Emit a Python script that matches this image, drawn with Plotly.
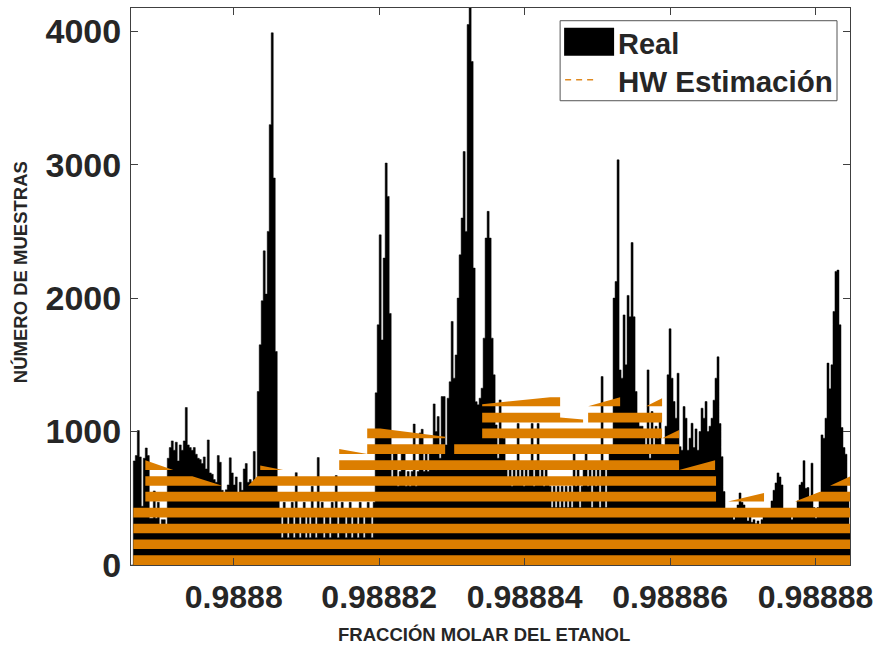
import plotly.graph_objects as go

# Histogram of the measured samples (one count per bin)
BIN_START = 0.98878591
BIN_WIDTH = 2.749e-7
REAL_COUNTS = [
    0, 780, 820, 1007, 810, 440, 800, 877, 820, 350,
    350, 555, 350, 470, 300, 340, 340, 300, 800, 880,
    930, 860, 920, 780, 900, 860, 930, 1180, 900, 880,
    860, 880, 830, 800, 790, 760, 810, 720, 937, 690,
    680, 640, 620, 820, 770, 560, 530, 563, 600, 803,
    690, 600, 660, 540, 620, 560, 720, 760, 620, 640,
    620, 850, 640, 1300, 1650, 1980, 2354, 2030, 2500, 3300,
    3988, 2900, 1600, 480, 370, 205, 470, 370, 205, 370,
    470, 205, 692, 370, 205, 370, 470, 205, 370, 205,
    590, 370, 205, 805, 370, 470, 205, 370, 370, 205,
    470, 370, 670, 205, 370, 470, 370, 205, 370, 470,
    205, 370, 370, 205, 470, 370, 205, 370, 470, 370,
    205, 470, 1290, 1800, 2474, 1687, 2300, 3012, 2762, 1885,
    600, 840, 840, 590, 700, 840, 840, 590, 700, 590,
    700, 1056, 590, 700, 990, 1017, 700, 840, 700, 840,
    860, 1207, 1000, 1112, 800, 1262, 1262, 900, 1250, 1373,
    1825, 1400, 1574, 2000, 2324, 2600, 3098, 2500, 4050, 4174,
    3773, 2225, 1224, 1200, 1250, 1325, 1700, 2450, 2650, 2450,
    1700, 1425, 1050, 800, 1237, 1000, 950, 720, 600, 720,
    590, 720, 600, 1060, 600, 720, 590, 720, 600, 720,
    1060, 590, 720, 1060, 600, 720, 590, 720, 600, 590,
    430, 590, 430, 590, 430, 590, 430, 590, 430, 590,
    430, 850, 590, 720, 430, 590, 720, 850, 590, 720,
    430, 720, 590, 720, 430, 1412, 720, 430, 720, 840,
    840, 2000, 2124, 3036, 1462, 1400, 1874, 1500, 2020, 1860,
    2416, 1860, 1300, 1100, 1040, 1040, 1000, 900, 1462, 800,
    1150, 850, 1040, 950, 1130, 900, 850, 1040, 1425, 1770,
    1400, 1225, 1100, 1437, 887, 860, 1187, 1100, 860, 950,
    1062, 880, 1020, 860, 1000, 1175, 1100, 1225, 1000, 1040,
    1100, 1235, 1400, 1560, 1060, 812, 550, 420, 370, 400,
    360, 340, 370, 450, 540, 470, 450, 360, 330, 360,
    320, 340, 310, 330, 300, 340, 360, 400, 380, 400,
    480, 560, 615, 690, 660, 600, 400, 380, 400, 380,
    340, 380, 400, 480, 600, 620, 782, 575, 580, 500,
    763, 430, 350, 430, 520, 975, 950, 1100, 1513, 1320,
    1500, 1900, 2200, 2210, 1800, 1030, 880, 830, 500, 300,
]

# HW estimate: dashed level segments (offset from 0.9888 in 1e-6, counts)
BASE = 0.9888
SEG_START = [-13.81, -13.81, -13.81, -13.81,
             -12.16, 67.97, 77.18, 80.62,
             -12.16, -5.70, 1.99, 3.23, 81.99,
             -12.16, 3.64, 14.50, 61.24,
             14.50, 18.35, 30.31,
             18.35, 20.14, 34.16, 58.90,
             34.16, 44.88, 48.73,
             34.16, 43.51, 48.73, 56.70]
SEG_END = [84.88, 84.88, 84.88, 84.88,
           66.32, 72.92, 80.62, 84.88,
           -5.70, -1.58, 3.23, 66.32, 84.88,
           -8.32, 6.80, 61.24, 66.19,
           18.35, 29.07, 61.24,
           20.14, 29.07, 58.90, 61.24,
           44.88, 48.04, 58.90,
           43.51, 44.88, 53.13, 58.90]
SEG_LOW = [0, 119, 237, 356,
           475, 475, 475, 475,
           593, 593, 593, 593, 593,
           712, 712, 712, 712,
           831, 831, 831,
           949, 949, 949, 949,
           1067, 1067, 1067,
           1190, 1190, 1190, 1190]
SEG_TOP_LEFT = [73, 192, 310, 429,
                548, 475, 475, 548,
                666, 666, 593, 666, 593,
                785, 745, 785, 712,
                870, 904, 904,
                1022, 1022, 1022, 949,
                1140, 1105, 1140,
                1205, 1258, 1190, 1190]
SEG_TOP_RIGHT = [73, 192, 310, 429,
                 548, 540, 548, 548,
                 666, 593, 666, 666, 666,
                 712, 712, 785, 785,
                 831, 904, 904,
                 1022, 962, 1022, 1012,
                 1140, 1090, 1140,
                 1258, 1258, 1258, 1250]

X_TICKS = [0.9888, 0.98882, 0.98884, 0.98886, 0.98888]
X_LABELS = ["0.9888", "0.98882", "0.98884", "0.98886", "0.98888"]
Y_TICKS = [0, 1000, 2000, 3000, 4000]
X_RANGE = [0.98878587, 0.98888474]
Y_RANGE = [0, 4174]

TEXT = "#262626"
ORANGE = "#DC7E00"

edges = [BIN_START + i * BIN_WIDTH for i in range(len(REAL_COUNTS) + 1)]
hx = edges
hy = REAL_COUNTS + [REAL_COUNTS[-1]]

ox, oy = [], []
for s, e, lo, tl, tr in zip(SEG_START, SEG_END, SEG_LOW, SEG_TOP_LEFT, SEG_TOP_RIGHT):
    a, b = BASE + s * 1e-6, BASE + e * 1e-6
    ox += [a, b, b, a, a, None]
    oy += [lo, lo, tr, tl, lo, None]

fig = go.Figure()
fig.add_trace(go.Scatter(x=hx, y=hy, mode="lines", name="Real",
                         line=dict(color="black", width=0.5, shape="hv"),
                         fill="tozeroy", fillcolor="black", hoverinfo="skip"))
fig.add_trace(go.Scatter(x=ox, y=oy, mode="lines", name="HW Estimación",
                         line=dict(width=0, color=ORANGE),
                         fill="toself", fillcolor=ORANGE, hoverinfo="skip"))

W, H = 877, 645
L, R, T, B = 130.7, 850, 8.3, 565.1
px = lambda v: (v - L) / (R - L)
py = lambda v: (B - v) / (B - T)

shapes = [
    dict(type="rect", xref="paper", yref="paper", x0=px(560), x1=px(837), y0=py(101), y1=py(21),
         fillcolor="white", line=dict(color="#555555", width=1)),
    dict(type="rect", xref="paper", yref="paper", x0=px(564), x1=px(614), y0=py(56), y1=py(28),
         fillcolor="black", line=dict(width=0)),
    dict(type="line", xref="paper", yref="paper", x0=px(565), x1=px(598), y0=py(80), y1=py(80),
         line=dict(color="#E08A20", width=1.5, dash="6px,5px")),
]
annotations = [
    dict(text="<b>Real</b>", xref="paper", yref="paper", x=px(617), y=py(44), xanchor="left",
         yanchor="middle", showarrow=False, xshift=-1, font=dict(size=29, color=TEXT)),
    dict(text="<b>HW Estimación</b>", xref="paper", yref="paper", x=px(617), y=py(82), xanchor="left",
         yanchor="middle", showarrow=False, xshift=-1, font=dict(size=29.5, color=TEXT)),
    dict(text="<b>FRACCIÓN MOLAR DEL ETANOL</b>", xref="paper", yref="paper", x=px(484), y=py(635),
         xanchor="center", yanchor="middle", showarrow=False, font=dict(size=18.5, color=TEXT)),
    dict(text="<b>NÚMERO DE MUESTRAS</b>", xref="paper", yref="paper", x=px(20), y=py(272),
         xanchor="center", yanchor="middle", showarrow=False, textangle=-90,
         font=dict(size=18.5, color=TEXT)),
]

fig.update_layout(
    width=W, height=H, showlegend=False, plot_bgcolor="white", paper_bgcolor="white",
    margin=dict(l=L, r=W - R, t=T, b=H - B, autoexpand=False),
    shapes=shapes, annotations=annotations,
    font=dict(family="Liberation Sans", color=TEXT),
)
axis = dict(showgrid=False, zeroline=False, showline=True, linecolor="#404040", linewidth=1,
            mirror="ticks", ticks="inside", ticklen=7, tickcolor="#404040", tickwidth=1)
fig.update_xaxes(range=X_RANGE, tickvals=X_TICKS, ticktext=[f"<b>{t}</b>" for t in X_LABELS],
                 tickfont=dict(size=32, color=TEXT), ticklabelstandoff=4, **axis)
fig.update_yaxes(range=Y_RANGE, tickvals=Y_TICKS, ticktext=[f"<b>{t}</b>" for t in Y_TICKS],
                 tickfont=dict(size=34, color=TEXT), ticklabelstandoff=2, **axis)

fig.write_html("out.html", config={"displayModeBar": False},
               post_script="document.body.style.margin='0';")
